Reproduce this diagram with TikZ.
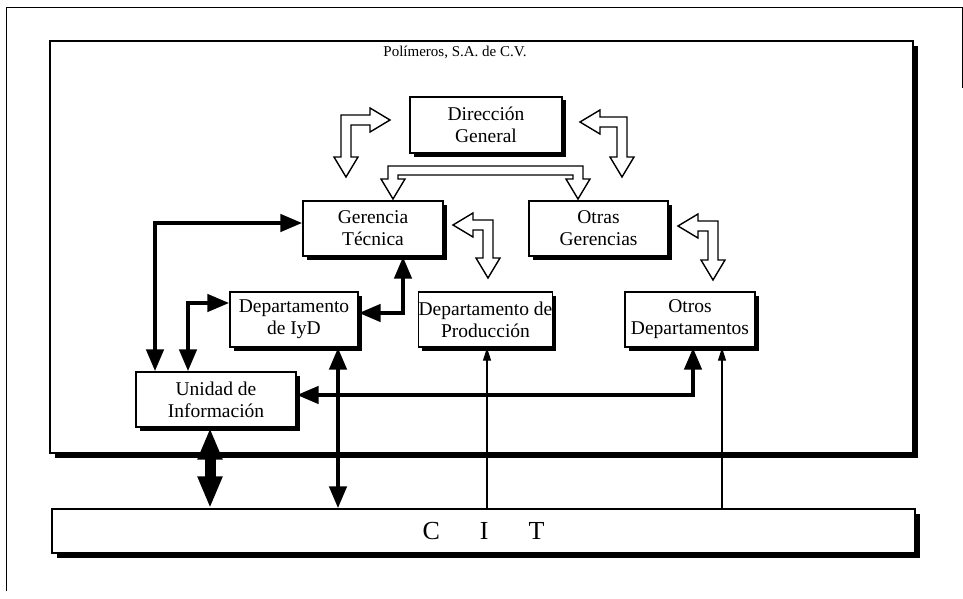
\documentclass[tikz,border=0pt]{standalone}
\usepackage{fontspec}
\setmainfont{Liberation Serif}
\usetikzlibrary{arrows.meta,shadows}

\begin{document}
\begin{tikzpicture}[x=1pt,y=-1pt,
  box/.style={draw, line width=1.4pt, fill=white, align=center, inner sep=0pt,
    font=\fontsize{19.5}{22}\selectfont,
    drop shadow={opacity=1, fill=black, shadow xshift=3.5pt, shadow yshift=-3.5pt}},
  frame/.style={draw, line width=1.4pt, fill=white, inner sep=0pt,
    drop shadow={opacity=1, fill=black, shadow xshift=5pt, shadow yshift=-5pt}},
  link/.style={line width=4.5pt,
    {Triangle[length=22pt,width=17pt]}-{Triangle[length=22pt,width=17pt]}},
  fatlink/.style={line width=11pt,
    {Triangle[length=32pt,width=23pt]}-{Triangle[length=32pt,width=23pt]}},
  thinlink/.style={line width=1.4pt, -{Triangle[length=13pt,width=8pt]}},
  hollow/.style={draw, fill=white, line width=1.4pt, line join=miter},
]
\useasboundingbox (0,0) rectangle (963,599);

% page border
\draw[line width=0.8pt] (6,591) -- (6,7) -- (962,7) -- (962,88);

% company frame and the CIT bar
\node[frame, minimum width=863pt, minimum height=412pt] (pol) at (481.5,247) {};
\node[font=\fontsize{15}{18}\selectfont] (title) at (455,52) {Polímeros, S.A. de C.V.};
\node[frame, minimum width=863pt, minimum height=44pt,
      font=\fontsize{26}{30}\selectfont] (cit) at (483.5,531)
      {C\hspace{40pt}I\hspace{40pt}T};

% units
\node[box, minimum width=152pt, minimum height=56pt] (dg)   at (486,125)   {Dirección\\General};
\node[box, minimum width=140pt, minimum height=55pt] (gt)   at (373,228.5) {Gerencia\\Técnica};
\node[box, minimum width=139pt, minimum height=55pt] (og)   at (598.5,228.5) {Otras\\Gerencias};
\node[box, minimum width=128pt, minimum height=55pt] (iyd)  at (294,319.5) {Departamento\\de IyD};
\node[box, minimum width=131pt, minimum height=55pt] (prod) at (485.5,319.5) {Departamento de\\Producción};
\node[box, minimum width=130pt, minimum height=55pt] (od)   at (690,319.5) {Otros\\Departamentos};
\node[box, minimum width=160pt, minimum height=55pt] (ui)   at (216,399.5) {Unidad de\\Información};

% hollow block arrows of the line of command
\draw[hollow] (341,115) -- (370,115) -- (370,108) -- (390,120) -- (370,132) -- (370,125)
  -- (351,125) -- (351,157) -- (358,157) -- (346,177) -- (334,157) -- (341,157) -- cycle;
\draw[hollow] (627,117) -- (600,117) -- (600,110) -- (580,122) -- (600,134) -- (600,127)
  -- (617,127) -- (617,157) -- (610,157) -- (622,177) -- (634,157) -- (627,157) -- cycle;
\draw[hollow] (388,166) -- (583,166) -- (583,179) -- (590,179) -- (578,199) -- (566,179)
  -- (573,179) -- (573,175) -- (398,175) -- (398,179) -- (405,179) -- (393,199)
  -- (381,179) -- (388,179) -- cycle;
\draw[hollow] (493,220) -- (473,220) -- (473,213) -- (453,225) -- (473,237) -- (473,230)
  -- (483,230) -- (483,258) -- (476,258) -- (488,278) -- (500,258) -- (493,258) -- cycle;
\draw[hollow] (718,221) -- (698,221) -- (698,214) -- (678,226) -- (698,238) -- (698,231)
  -- (708,231) -- (708,260) -- (701,260) -- (713,280) -- (725,260) -- (718,260) -- cycle;

% information links
\draw[link] (gt.west |- 0,223) -| (155,0 |- ui.north);
\draw[link] (188,0 |- ui.north) |- (iyd.west |- 0,303);
\draw[link] (403,0 |- gt.south) |- (iyd.east |- 0,313);
\draw[link] (338,0 |- iyd.south) -- (338,0 |- cit.north);
\draw[link] (ui.east |- 0,395) -| (693,0 |- od.south);
\draw[fatlink] (210,0 |- ui.south) -- (210,0 |- cit.north);
\draw[thinlink] (487,0 |- cit.north) -- (487,0 |- prod.south);
\draw[thinlink] (722,0 |- cit.north) -- (722,0 |- od.south);
\end{tikzpicture}
\end{document}
